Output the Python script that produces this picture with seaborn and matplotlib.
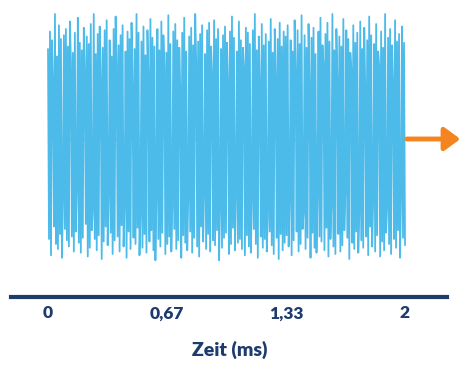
import numpy as np
import matplotlib
matplotlib.use('Agg')
import matplotlib.pyplot as plt
import seaborn as sns

# Signalwerte (normiert)
signal = [
    0.72, -0.80, 0.86, -0.93, 0.79, 0.45, -0.70, 1.00, -0.84, 0.66, -0.88, 0.91,
    -0.76, 0.80, -0.95, -0.50, 0.83, -0.72, 0.88, -0.81, 0.74, -0.86, 0.94, 0.62,
    -0.78, 0.69, -0.90, 0.85, -0.74, -0.40, 0.97, -0.83, 0.77, -0.91, 0.71, -0.79,
    0.89, 0.55, -0.68, 0.82, -0.94, 0.76, -0.87, 0.92, -0.73, -0.58, 1.00, -0.80,
    0.68, -0.89, 0.84, -0.77, 0.90, 0.48, -0.96, 0.73, -0.82, 0.87, -0.70, 0.95,
    -0.85, -0.44, 0.79, -0.75, 0.66, -0.92, 0.88, -0.81, 0.98, 0.60, -0.78, 0.75,
    -0.90, 0.83, -0.69, 0.91, -0.86, -0.52, 0.70, -0.95, 0.86, -0.74, 0.80, -0.88,
    0.93, 0.42, -0.79, 0.72, -0.84, 1.00, -0.71, 0.85, -0.93, -0.60, 0.78, -0.87,
    0.90, -0.76, 0.67, -0.91, 0.87, 0.50, -0.82, 0.96, -0.73, 0.81, -0.89, 0.74,
    -0.97, -0.46, 0.88, -0.80, 0.71, -0.86, 0.94, -0.75, 0.83, 0.57, -0.92, 0.69,
    -0.84, 0.99, -0.78, 0.76, -0.90, -0.54, 0.86, -0.72, 0.92, -0.88, 0.79, -0.81,
    0.73, 0.40, -0.95, 0.85, -0.77, 0.97, -0.83, 0.70, -0.89, -0.48, 0.82, -0.74,
    0.89, -0.91, 0.75, -0.79, 1.00, 0.63, -0.86, 0.78, -0.94, 0.84, -0.70, 0.91,
    -0.82, -0.41, 0.68, -0.88, 0.87, -0.76, 0.93, -0.90, 0.74, 0.52, -0.81, 0.95,
    -0.85, 0.80, -0.73, 0.88, -0.97, -0.56, 0.72, -0.87, 0.83, -0.79, 0.90, -0.75,
    0.77, 0.46, -0.92, 0.86, -0.84, 0.98, -0.71, 0.81, -0.89, -0.43, 0.70, -0.83,
    0.94, -0.80, 0.79, -0.88, 0.73, 0.58, -0.93, 0.89, -0.77, 0.85, -0.86, 0.76,
    -0.91, -0.50, 0.87, -0.72, 1.00, -0.84, 0.71, -0.95, 0.82, 0.44, -0.78, 0.92,
    -0.87, 0.75, -0.80, 0.84, -0.90, -0.62, 0.78, -0.74, 0.96, -0.85, 0.69, -0.92,
    0.88, 0.49, -0.79, 0.80, -0.96, 0.93, -0.76, 0.74, -0.89, 0.86, -0.83, 0.82,
    -0.77, 0.91, -0.86, -0.47, 0.79, -0.93, 0.70, -0.81, 0.95, 0.54, -0.74, 0.87,
    -0.90, 0.76, -0.84, 0.99, -0.72, -0.59, 0.83, -0.88, 0.73, -0.79, 0.92, 0.43,
    -0.95, 0.81, -0.75, 0.89, -0.87, 0.68, -0.91, -0.45, 0.86, -0.78, 0.97, -0.82,
    0.75, 0.61, -0.89, 0.84, -0.71, 0.93, -0.94, 0.78, -0.80, -0.53, 1.00, -0.86,
    0.71, -0.92, 0.88, 0.47, -0.76, 0.82, -0.90, 0.74, -0.85, 0.96, -0.73, -0.42,
    0.87, -0.79, 0.80, -0.96, 0.69, 0.56, -0.83, 0.91, -0.88, 0.77, -0.74, 0.85,
    -0.91, -0.61, 0.94, -0.81, 0.72, -0.87, 0.89, 0.41, -0.78, 0.79, -0.93, 0.98,
    -0.70, 0.83, -0.86, -0.49, 0.76, -0.90, 0.92, -0.77, 0.70, 0.59, -0.94, 0.86,
    -0.82, 0.73, -0.89, 1.00, -0.75, -0.55, 0.81, -0.84, 0.88, -0.92, 0.75, 0.44,
    -0.80, 0.95, -0.87, 0.78, -0.73, 0.84, -0.95, -0.46, 0.90, -0.79, 0.77, -0.85,
]
t = np.linspace(0, 2, len(signal))  # Zeit in ms

tick_pos = [0, 2 / 3, 4 / 3, 2]
tick_labels = ['0', '0,67', '1,33', '2']

navy = '#1d3b6c'
blau = '#4dbbea'
orange = '#f48420'

sns.set_style('white')
plt.rcParams['font.family'] = ['Lato', 'DejaVu Sans']

fig = plt.figure(figsize=(4.6, 3.65), dpi=100)
ax = fig.add_axes([0, 68 / 365, 1, 297 / 365])

# Grundlinie + Signal
ax.plot([t[0], t[-1]], [0, 0], color='#9a9a9a', lw=1, zorder=0)
sns.lineplot(x=t, y=signal, ax=ax, color=blau, lw=1.3, estimator=None, sort=False)

# Pfeil nach rechts
ax.annotate('', xy=(2.31, 0), xytext=(2.01, 0),
            arrowprops=dict(arrowstyle='-|>,head_length=0.95,head_width=0.7',
                            color=orange, lw=3.5, shrinkA=0, shrinkB=0),
            annotation_clip=False)

px = 178.5
ax.set_xlim(-48 / px, 412 / px)
ax.set_ylim(-158 / 125, 139 / 125)

for s in ['top', 'left', 'right']:
    ax.spines[s].set_visible(False)
ax.spines['bottom'].set_color(navy)
ax.spines['bottom'].set_linewidth(3)
ax.spines['bottom'].set_bounds(-37 / px, 399 / px)

ax.set_yticks([])
ax.set_xticks(tick_pos)
ax.set_xticklabels(tick_labels)
ax.tick_params(axis='x', direction='in', length=9, width=1.2, color=navy,
               labelcolor=navy, labelsize=12.5, pad=6)
for lab in ax.get_xticklabels():
    lab.set_fontweight('heavy')

ax.set_xlabel('Zeit (ms)', color=navy, fontsize=14, fontweight='heavy', labelpad=14)

fig.savefig('out.png', dpi=100)
